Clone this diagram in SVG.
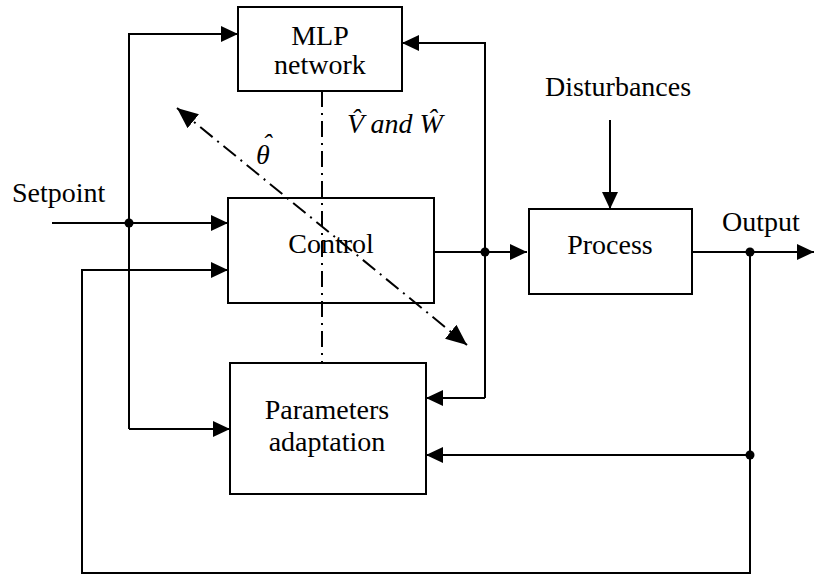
<svg xmlns="http://www.w3.org/2000/svg" width="814" height="575" viewBox="0 0 814 575">
<defs>
<marker id="ah" markerUnits="userSpaceOnUse" markerWidth="18" markerHeight="16" refX="17" refY="8" orient="auto-start-reverse">
<path d="M0,0 L17,8 L0,16 Z" fill="#000"/>
</marker>
<marker id="ah2" markerUnits="userSpaceOnUse" markerWidth="22" markerHeight="18" refX="21" refY="9" orient="auto-start-reverse">
<path d="M0,0 L21,9 L0,18 Z" fill="#000"/>
</marker>
</defs>
<style>
.box{fill:#fff;stroke:#000;stroke-width:2}
.ln{fill:none;stroke:#000;stroke-width:2}
.dd{fill:none;stroke:#000;stroke-width:2;stroke-dasharray:16 6 2 6}
.t{text-anchor:middle}
.i{font-style:italic}
</style>
<rect width="814" height="575" fill="#fff"/>
<g id="connectors">
<path class="dd" d="M322,91 V363"/>
<path class="dd" d="M177,108 L467,345" marker-start="url(#ah2)" marker-end="url(#ah2)"/>
<path class="ln" d="M52,223 H228" marker-end="url(#ah)"/>
<path class="ln" d="M129,429 V34 H238" marker-end="url(#ah)"/>
<path class="ln" d="M129,429 H230" marker-end="url(#ah)"/>
<path class="ln" d="M750,252 V573 H82 V270 H228" marker-end="url(#ah)"/>
<path class="ln" d="M434,252 H527" marker-end="url(#ah)"/>
<path class="ln" d="M485,398 V43 H402" marker-end="url(#ah)"/>
<path class="ln" d="M485,398 H426" marker-end="url(#ah)"/>
<path class="ln" d="M692,252 H814" marker-end="url(#ah)"/>
<path class="ln" d="M750,455 H426" marker-end="url(#ah)"/>
<path class="ln" d="M610,120 V209" marker-end="url(#ah)"/>
<circle cx="129" cy="223" r="4.5"/>
<circle cx="485" cy="252" r="4.5"/>
<circle cx="750" cy="252" r="4.5"/>
<circle cx="750" cy="455" r="4.5"/>
</g>
<g font-family="Liberation Serif, serif" font-size="28" fill="#000">
<g id="mlp">
<rect class="box" x="238" y="7" width="164" height="84"/>
<text class="t" x="320" y="45">MLP</text>
<text class="t" x="320" y="74">network</text>
</g>
<g id="control">
<rect class="box" x="228" y="198" width="206" height="105" fill-opacity="0"/>
<text class="t" x="331" y="253">Control</text>
</g>
<g id="process">
<rect class="box" x="529" y="209" width="163" height="85"/>
<text class="t" x="610" y="254">Process</text>
</g>
<g id="params">
<rect class="box" x="230" y="363" width="196" height="131"/>
<text class="t" x="327" y="419">Parameters</text>
<text class="t" x="327" y="451">adaptation</text>
</g>
<g id="labels">
<text x="12" y="202">Setpoint</text>
<text class="t" x="618" y="96">Disturbances</text>
<text class="t" x="761" y="231">Output</text>
<text class="i" x="347" y="133">V̂ and  Ŵ</text>
<text class="i t" x="263" y="164">θ<tspan x="267" y="153">ˆ</tspan></text>
</g>
</g>
</svg>
